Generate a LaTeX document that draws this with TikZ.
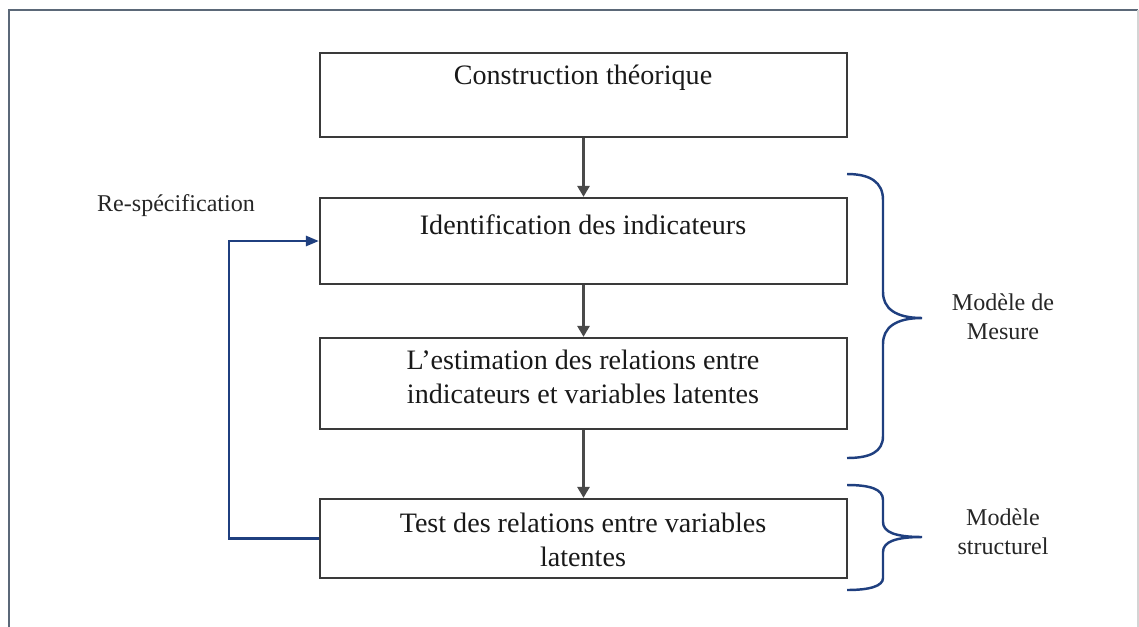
\documentclass[tikz,border=0pt]{standalone}
\usepackage{fontspec}
\setmainfont{Liberation Serif}
\usetikzlibrary{positioning, arrows.meta}
\definecolor{FrameGrey}{HTML}{5B6878}
\definecolor{EdgeGrey}{HTML}{D4D4D4}
\definecolor{BoxLine}{HTML}{3A3A3A}
\definecolor{FlowGrey}{HTML}{4A4A4A}
\definecolor{LoopBlue}{HTML}{1F3F7F}

\begin{document}
\begin{tikzpicture}[x=0.02cm, y=-0.02cm,
    stepbox/.style={draw=BoxLine, line width=1.3pt, minimum width=10.54cm},
    boxtext/.style={align=center, font=\fontsize{16}{19.3}\selectfont, text=black!90},
    sidetext/.style={align=center, font=\fontsize{13.7}{16.4}\selectfont, text=black!85},
    flow/.style={draw=FlowGrey, line width=1.6pt, -{Triangle[length=0.22cm, width=0.24cm]}},
    feedback/.style={draw=LoopBlue, line width=1.5pt, -{Triangle[length=0.26cm, width=0.2cm]}},
    brace/.style={draw=LoopBlue, line width=1.4pt}]
    \useasboundingbox (0,0) rectangle (1139,626);
    % frame
    \draw[FrameGrey, line width=1.3pt] (9,640) -- (9,10) -- (1138,10);
    \draw[EdgeGrey, line width=0.6pt] (1138,10) -- (1138,640);

    % boxes
    \node[stepbox, minimum height=1.68cm] (b1) at (583.5,95) {};
    \node[stepbox, minimum height=1.72cm] (b2) at (583.5,241) {};
    \node[stepbox, minimum height=1.82cm] (b3) at (583.5,383.5) {};
    \node[stepbox, minimum height=1.58cm] (b4) at (583.5,538.5) {};

    \node[boxtext] (t1) at (583,78) {Construction théorique};
    \node[boxtext] (t2) at (583,225) {Identification des indicateurs};
    \node[boxtext] (t3) at (583,377) {L’estimation des relations entre\\indicateurs et variables latentes};
    \node[boxtext] (t4) at (583,540) {Test des relations entre variables\\latentes};

    % arrows
    \draw[flow] (b1) -- (b2);
    \draw[flow] (b2) -- (b3);
    \draw[flow] (b3) -- (b4);
    \draw[feedback] (b4.west) -- ++(-90,0) |- (b2.west);

    % labels
    \node[sidetext] (respec) at (176,206) {Re-spécification};
    \node[sidetext] (mesure) at (1003,317) {Modèle de\\Mesure};
    \node[sidetext] (struct) at (1003,532) {Modèle\\structurel};

    % braces
    \draw[brace] (847,174) .. controls (870,174) and (883,182) .. (883,200)
        -- (883,292) .. controls (883,308) and (895,318) .. (922,318)
        .. controls (895,318) and (883,328) .. (883,344)
        -- (883,436) .. controls (883,452) and (870,458) .. (847,458);
    \draw[brace] (847,485) .. controls (870,485) and (883,489) .. (883,500)
        -- (883,522) .. controls (883,532) and (895,537) .. (922,537)
        .. controls (895,537) and (883,542) .. (883,552)
        -- (883,578) .. controls (883,586) and (870,590) .. (847,590);
\end{tikzpicture}
\end{document}
